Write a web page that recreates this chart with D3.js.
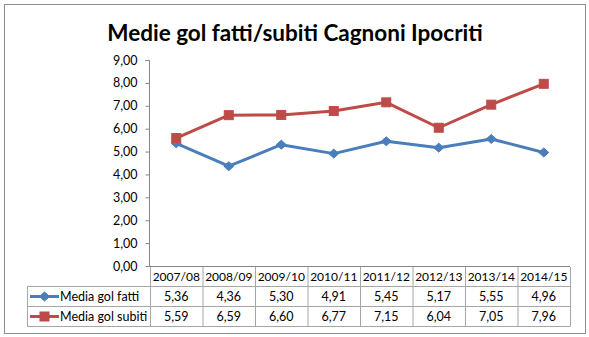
<!DOCTYPE html>
<html><head><meta charset="utf-8">
<script src="https://cdnjs.cloudflare.com/ajax/libs/d3/7.8.5/d3.min.js"></script>
<style>body{margin:0;background:#fff}svg{display:block}text{font-family:Lato,"Open Sans",sans-serif}</style>
</head><body>
<script>
const categories = ["2007/08","2008/09","2009/10","2010/11","2011/12","2012/13","2013/14","2014/15"];
const seriesNames = ["Media gol fatti","Media gol subiti"];
const fatti = [5.36,4.36,5.30,4.91,5.45,5.17,5.55,4.96];
const subiti = [5.59,6.59,6.60,6.77,7.15,6.04,7.05,7.96];
const yTicks = [0,1,2,3,4,5,6,7,8,9];
const title = "Medie gol fatti/subiti Cagnoni Ipocriti";

const W=589,H=337,FS=12;
const colors=["#4A7EBB","#BE4B48"];
const series=[fatti,subiti];
const fmt=v=>d3.format(".2f")(v).replace(".",",");

const svg=d3.select("body").append("svg").attr("width",W).attr("height",H);
svg.append("rect").attr("x",4.5).attr("y",4.5).attr("width",581).attr("height",329)
  .attr("fill","#fff").attr("stroke","#8c8c8c");

svg.append("text").attr("x",295).attr("y",41).attr("text-anchor","middle")
  .attr("font-size",22.5).attr("font-weight","bold").attr("fill","#000").text(title);

const x=d3.scaleBand().domain(categories).range([150,570]);
const y=d3.scaleLinear().domain([0,9]).range([266,60]);

const yAxis=svg.append("g").attr("transform","translate(149.5,0)")
  .call(d3.axisLeft(y).tickValues(yTicks).tickSize(4).tickPadding(8).tickFormat(fmt));
yAxis.selectAll("path,line").attr("stroke","#868686");
yAxis.select(".domain").attr("d",`M-4,${y(9)+0.5}H0V${y(0)}`);
yAxis.selectAll("text").attr("font-size",FS+0.5).attr("fill","#000").attr("font-family","Lato,sans-serif");

// x axis line
svg.append("line").attr("x1",149).attr("x2",570).attr("y1",y(0)+0.5).attr("y2",y(0)+0.5).attr("stroke","#868686");

// table
const tbl=svg.append("g").attr("stroke","#a6a6a6").attr("fill","none");
const rowY=[266,286.5,306.5,326.5];
const lx=27;
[rowY[1],rowY[2],rowY[3]].forEach(yy=>tbl.append("line").attr("x1",lx).attr("x2",570).attr("y1",yy).attr("y2",yy));
tbl.append("line").attr("x1",lx+0.5).attr("x2",lx+0.5).attr("y1",rowY[1]).attr("y2",rowY[3]);
categories.forEach((c,i)=>{
  const xx=x(c)+0.5;
  tbl.append("line").attr("x1",xx).attr("x2",xx).attr("y1",rowY[0]+1).attr("y2",rowY[3]);
});
tbl.append("line").attr("x1",570.5).attr("x2",570.5).attr("y1",rowY[0]+1).attr("y2",rowY[3]);

svg.append("g").selectAll("text").data(categories).join("text")
  .attr("x",d=>x(d)+x.bandwidth()/2).attr("y",281).attr("text-anchor","middle")
  .attr("font-size",FS).attr("fill","#000").text(d=>d);

series.forEach((s,si)=>{
  const ty=si===0?301:321;
  svg.append("g").selectAll("text").data(s).join("text")
    .attr("x",(d,i)=>x(categories[i])+x.bandwidth()/2).attr("y",ty).attr("text-anchor","middle")
    .attr("font-size",FS+0.5).attr("fill","#000").text(d=>fmt(d));
  const ky=si===0?296.5:316.5;
  svg.append("line").attr("x1",30).attr("x2",59).attr("y1",ky).attr("y2",ky)
    .attr("stroke",colors[si]).attr("stroke-width",3);
  drawMarker(svg,si,44.5,ky);
  svg.append("text").attr("x",60).attr("y",ty).attr("font-size",FS+0.5).attr("fill","#000").text(seriesNames[si]);
});

function drawMarker(g,si,cx,cy){
  if(si===0){
    g.append("path").attr("d",`M${cx},${cy-4.5}L${cx+5},${cy}L${cx},${cy+4.5}L${cx-5},${cy}Z`).attr("fill",colors[0]).attr("stroke",colors[0]);
  } else {
    g.append("rect").attr("x",cx-4.5).attr("y",cy-4.5).attr("width",9).attr("height",9).attr("fill",colors[1]).attr("stroke",colors[1]);
  }
}

const line=d3.line().x((d,i)=>x(categories[i])+x.bandwidth()/2).y(d=>y(d));
series.forEach((s,si)=>{
  svg.append("path").datum(s).attr("d",line).attr("fill","none").attr("stroke",colors[si])
    .attr("stroke-width",3).attr("stroke-linejoin","round");
  s.forEach((v,i)=>drawMarker(svg,si,x(categories[i])+x.bandwidth()/2,y(v)));
});
</script>
</body></html>
